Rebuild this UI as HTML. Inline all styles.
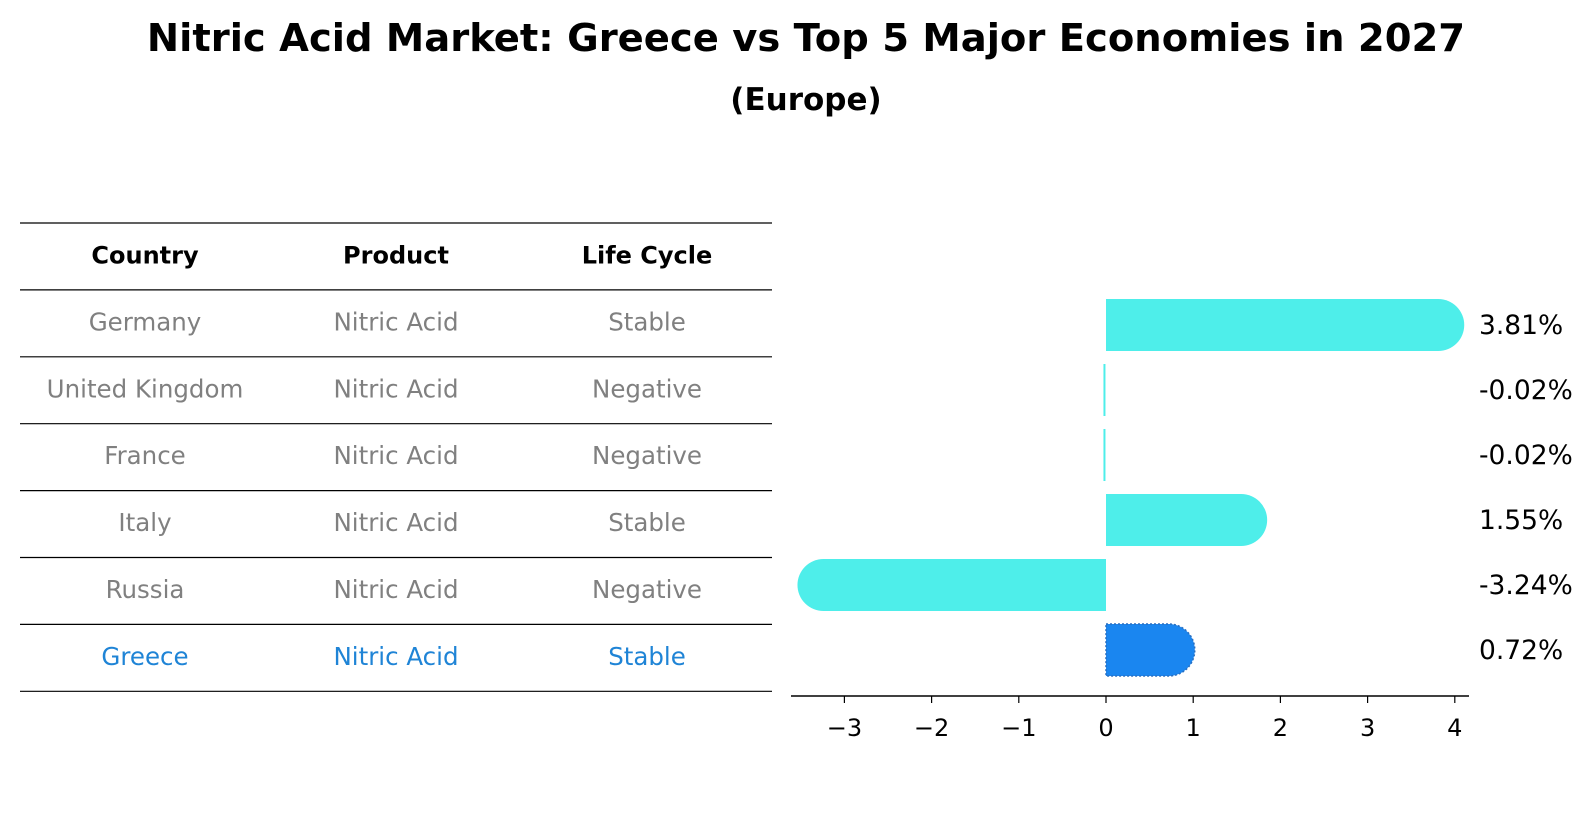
<!DOCTYPE html>
<html><head><meta charset="utf-8"><style>
body{margin:0;width:1596px;height:823px;background:#fff;overflow:hidden;font-family:"DejaVu Sans","Liberation Sans",sans-serif;}
svg{display:block}
</style></head><body>
<svg id="chart" width="1596" height="823">
<text x="806" y="51" text-anchor="middle" font-size="38.5" font-weight="bold">Nitric Acid Market: Greece vs Top 5 Major Economies in 2027</text>
<text x="806" y="110" text-anchor="middle" font-size="31" font-weight="bold">(Europe)</text>
<g id="table"></g>
<g id="bars"></g>
</svg>
<script>
const countries=["Germany","United Kingdom","France","Italy","Russia","Greece"];
const products=["Nitric Acid","Nitric Acid","Nitric Acid","Nitric Acid","Nitric Acid","Nitric Acid"];
const lifeCycles=["Stable","Negative","Negative","Stable","Negative","Stable"];
const growthValues=[3.81,-0.02,-0.02,1.55,-3.24,0.72];
const valueLabels=["3.81%","-0.02%","-0.02%","1.55%","-3.24%","0.72%"];
const headers=["Country","Product","Life Cycle"];
const xTicks=[-3,-2,-1,0,1,2,3,4];
const xTickLabels=["\u22123","\u22122","\u22121","0","1","2","3","4"];

const NS="http://www.w3.org/2000/svg";
function mk(tag,attrs,parent){const e=document.createElementNS(NS,tag);for(const k in attrs)e.setAttribute(k,attrs[k]);parent.appendChild(e);return e;}
const tbl=document.getElementById('table');
const bars=document.getElementById('bars');
const rowTop=223,rowH=66.9,colX=[145,396,647];
for(let i=0;i<=countries.length+1;i++){
  const l=mk('line',{x1:20,x2:772,y1:rowTop+i*rowH,y2:rowTop+i*rowH,stroke:'#000','stroke-width':1.2},tbl);
  
  
}
headers.forEach((h,j)=>{
  const t=mk('text',{x:colX[j],y:rowTop+rowH/2+7,'text-anchor':'middle','font-size':24,'font-weight':'bold'},tbl);
  t.textContent=h;
  
  
});
countries.forEach((c,i)=>{
  const vals=[c,products[i],lifeCycles[i]];
  const col=(c==="Greece")?'#1f84d6':'#808080';
  vals.forEach((v,j)=>{
    const t=mk('text',{x:colX[j],y:rowTop+(i+1.5)*rowH+7,'text-anchor':'middle','font-size':24.5,fill:col},tbl);
    t.textContent=v;
    
    
  });
});
const x0=1106,pxPer=87.2;
const xs=v=>x0+v*pxPer;
const yc=i=>325+i*65;
const barH=52,r=26,axisY=696;
countries.forEach((c,i)=>{
  const v=growthValues[i];
  const isG=c==="Greece";
  const fill=isG?'#1a86f0':'#4eeeea';
  const xa=xs(0),xb=xs(v);
  const top=yc(i)-barH/2;
  let d;
  if(Math.abs(xb-xa)<2){
    d=`M${Math.min(xa,xb)-0.8},${top}h2v${barH}h-2z`;
  } else if(v>0){
    d=`M${xa},${top}H${xb}A${r},${r} 0 0 1 ${xb},${top+barH}H${xa}Z`;
  } else {
    d=`M${xa},${top}H${xb}A${r},${r} 0 0 0 ${xb},${top+barH}H${xa}Z`;
  }
  const p=mk('path',{d:d,fill:fill},bars);
  if(isG){p.setAttribute('stroke','#2a6fc0');p.setAttribute('stroke-width','1.5');p.setAttribute('stroke-dasharray','2,2');}
  
  
  const t=mk('text',{x:1479,y:yc(i)+9,'font-size':26.5,fill:'#000'},bars);
  t.textContent=valueLabels[i];
  
  
});
const ax=mk('line',{x1:791,x2:1469,y1:axisY,y2:axisY,stroke:'#000','stroke-width':1.5},bars);


xTicks.forEach((v,i)=>{
  const tk=mk('line',{x1:xs(v),x2:xs(v),y1:axisY,y2:axisY+7,stroke:'#000','stroke-width':1.2},bars);
  
  
  const t=mk('text',{x:xs(v),y:axisY+40,'text-anchor':'middle','font-size':24,fill:'#000'},bars);
  t.textContent=xTickLabels[i];
  
  
});
</script>
</body></html>
